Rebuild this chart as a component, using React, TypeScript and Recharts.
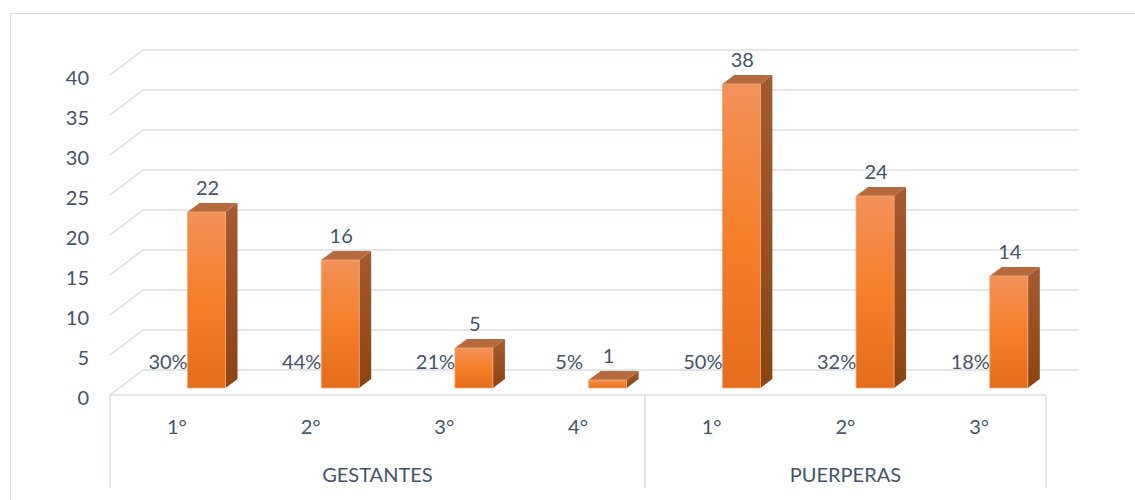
import React from 'react';
import { BarChart, Bar, XAxis, YAxis, CartesianGrid, LabelList } from 'recharts';

// categories and values
const grades = ['1°', '2°', '3°', '4°', '1°', '2°', '3°'];
const groups = ['GESTANTES', 'GESTANTES', 'GESTANTES', 'GESTANTES', 'PUERPERAS', 'PUERPERAS', 'PUERPERAS'];
const counts = [22, 16, 5, 1, 38, 24, 14];
const percents = ['30%', '44%', '21%', '5%', '50%', '32%', '18%'];
const yTicks = [0, 5, 10, 15, 20, 25, 30, 35, 40];

const data = grades.map((g, i) => ({ grade: g, group: groups[i], count: counts[i], pct: percents[i] }));

const W = 1135;
const H = 500;
const TEXT = '#44546A';
const GRID = '#D9DCE3';
const FONT = 'Lato, "Open Sans", sans-serif';
const FONT_SIZE = 20;

// fake 3D: offsets of the bars and the back wall from the front plane
const BAR_DX = 29.5;
const BAR_DY = -7;
const TOP_DX = 12;
const TOP_DY = -9;
const WALL_DX = 33;
const WALL_DY = -25;
const PLOT_LEFT = 110;
const PLOT_RIGHT = 1046;
const BAND = (PLOT_RIGHT - PLOT_LEFT) / grades.length;

const renderGridLine = (p: any) => (
  <g key={p.key}>
    <line x1={p.x1} y1={p.y1} x2={p.x1 + WALL_DX} y2={p.y1 + WALL_DY} stroke={GRID} strokeWidth={1.5} />
    <line x1={p.x1 + WALL_DX} y1={p.y1 + WALL_DY} x2={p.x2 + WALL_DX} y2={p.y2 + WALL_DY} stroke={GRID} strokeWidth={1.5} />
  </g>
);

const Bar3D = (p: any) => {
  const { x, y, width, height } = p;
  if (height == null || isNaN(height)) return null;
  const fx = x + BAR_DX;
  const fy = y + BAR_DY;
  const w = width;
  const h = height;
  return (
    <g>
      <path
        d={`M${fx + w},${fy} L${fx + w + TOP_DX},${fy + TOP_DY} L${fx + w + TOP_DX},${fy + h + TOP_DY} L${fx + w},${fy + h} Z`}
        fill="url(#barSide)"
      />
      <path
        d={`M${fx},${fy} L${fx + TOP_DX},${fy + TOP_DY} L${fx + w + TOP_DX},${fy + TOP_DY} L${fx + w},${fy} Z`}
        fill="#B66A3E"
      />
      <rect x={fx} y={fy} width={w} height={h} fill="url(#barFront)" stroke="#F7A878" strokeWidth={0.8} />
    </g>
  );
};

const ValueLabel = (p: any) => {
  const { x, y, width, value } = p;
  return (
    <text x={x + width / 2 + BAR_DX + 1} y={y + BAR_DY - 25} textAnchor="middle" dominantBaseline="central"
      fill={TEXT} fontFamily={FONT} fontSize={FONT_SIZE}>
      {value}
    </text>
  );
};

const PctLabel = (p: any) => {
  const { x, y, width, height, value } = p;
  return (
    <text x={x + width / 2 - 9} y={y + height - 34} textAnchor="middle" dominantBaseline="central"
      fill={TEXT} fontFamily={FONT} fontSize={FONT_SIZE}>
      {value}
    </text>
  );
};

const YTick = (p: any) => (
  <text x={89} y={p.y + 2} textAnchor="end" dominantBaseline="central" fill={TEXT} fontFamily={FONT} fontSize={FONT_SIZE}>
    {p.payload.value}
  </text>
);

const CategoryTick = (p: any) => {
  const { x, y, index } = p;
  const left = x - BAND / 2;
  const right = x + BAND / 2;
  const isStart = index === 0 || groups[index] !== groups[index - 1];
  const n = groups.filter(g => g === groups[index]).length;
  return (
    <g>
      <text x={x} y={y + 31} textAnchor="middle" dominantBaseline="central" fill={TEXT} fontFamily={FONT} fontSize={FONT_SIZE}>
        {p.payload.value}
      </text>
      {isStart && <line x1={left} y1={y} x2={left} y2={y + 93} stroke={GRID} strokeWidth={1.5} />}
      {isStart && (
        <text x={left + (n * BAND) / 2} y={y + 79} textAnchor="middle" dominantBaseline="central"
          fill={TEXT} fontFamily={FONT} fontSize={FONT_SIZE}>
          {groups[index]}
        </text>
      )}
      {index === grades.length - 1 && <line x1={right} y1={y} x2={right} y2={y + 93} stroke={GRID} strokeWidth={1.5} />}
    </g>
  );
};

export default function App() {
  return (
    <div style={{ position: 'relative', width: W, height: H, overflow: 'hidden', background: '#fff' }}>
      <style>{'body{margin:0}'}</style>
      <div style={{ position: 'absolute', left: 10, top: 13, width: 1140, height: 600, border: '1.5px solid #DDE0E6' }} />
      <svg width={0} height={0} style={{ position: 'absolute' }}>
        <defs>
          <linearGradient id="barFront" x1="0" y1="0" x2="0" y2="1">
            <stop offset="0%" stopColor="#F3915A" />
            <stop offset="50%" stopColor="#F57F29" />
            <stop offset="100%" stopColor="#E46C1C" />
          </linearGradient>
          <linearGradient id="barSide" x1="0" y1="0" x2="0" y2="1">
            <stop offset="0%" stopColor="#A65A2F" />
            <stop offset="100%" stopColor="#8C4412" />
          </linearGradient>
        </defs>
      </svg>
      <div style={{ position: 'absolute', left: 0, top: 0 }}>
        <BarChart width={W} height={H} data={data} margin={{ top: 75, right: 89, bottom: 0, left: 10 }}>
          <CartesianGrid vertical={false} horizontal={renderGridLine} />
          <XAxis
            dataKey="grade"
            interval={0}
            height={105}
            tickLine={false}
            tickSize={0}
            tickMargin={0}
            axisLine={{ stroke: GRID, strokeWidth: 1.5 }}
            tick={<CategoryTick />}
          />
          <YAxis
            domain={[0, 40]}
            ticks={yTicks}
            width={100}
            axisLine={false}
            tickLine={false}
            tick={<YTick />}
          />
          <Bar dataKey="count" barSize={38} shape={<Bar3D />} isAnimationActive={false}>
            <LabelList dataKey="count" content={<ValueLabel />} />
            <LabelList dataKey="pct" content={<PctLabel />} />
          </Bar>
        </BarChart>
      </div>
    </div>
  );
}
